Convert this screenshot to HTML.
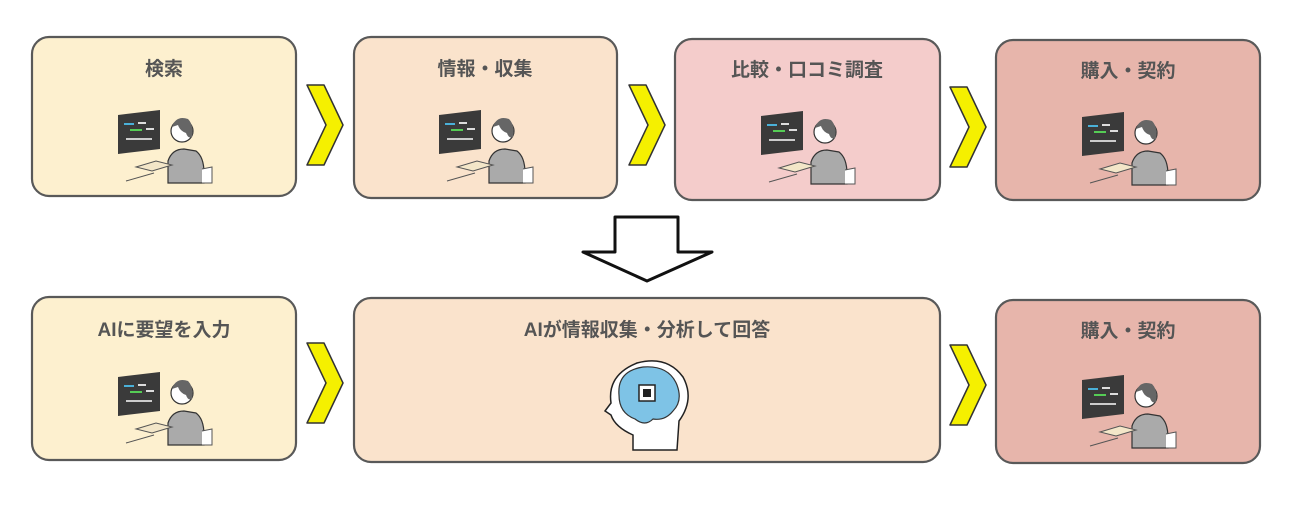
<!DOCTYPE html>
<html><head><meta charset="utf-8"><style>
body{margin:0;background:#fff;width:1300px;height:500px;overflow:hidden}
text{font-family:"Liberation Sans","Noto Sans CJK JP",sans-serif;font-weight:bold;font-size:19px;fill:#555;text-anchor:middle}
</style></head><body>
<svg width="1300" height="500" viewBox="0 0 1300 500">
<defs>
<g id="p">
<polygon points="-48,-28 -6,-33 -6,6 -48,11" fill="#3a3a3a"/>
<rect x="-42" y="-20" width="10" height="2" fill="#4ab0d8"/><rect x="-28" y="-21" width="8" height="2" fill="#ddd"/>
<rect x="-36" y="-14" width="12" height="2" fill="#5c5"/><rect x="-20" y="-15" width="8" height="2" fill="#ddd"/>
<rect x="-40" y="-5" width="26" height="2" fill="#ccc"/>
<path d="M2,40 L2,18 Q6,6 18,6 L30,8 Q38,14 38,30 L38,40 Z" fill="#aaa" stroke="#333" stroke-width="1.2"/>
<circle cx="16" cy="-12" r="11" fill="#fff" stroke="#333" stroke-width="1.2"/>
<path d="M6,-16 Q10,-28 22,-24 Q28,-18 26,-6 Q22,-4 20,-10 Q14,-12 12,-18 Z" fill="#666"/>
<path d="M-30,24 L-10,18 L6,22 L-14,28 Z" fill="#f3e6c8" stroke="#555" stroke-width="1"/>
<line x1="-40" y1="38" x2="-12" y2="30" stroke="#555" stroke-width="1"/>
<path d="M36,26 L46,24 L46,40 L36,40" fill="#fff" stroke="#555" stroke-width="1"/>
</g>
<polygon id="c" points="0,0 17,0 36,40 17,80 0,80 19,40" fill="#f5f000" stroke="#333" stroke-width="1.5" stroke-linejoin="round"/>
</defs>
<g stroke="#595959" stroke-width="2.2">
<rect x="32" y="37" width="264" height="159" rx="17" fill="#fdf0cf"/>
<rect x="354" y="37" width="263" height="161" rx="17" fill="#fae3cc"/>
<rect x="675" y="39" width="265" height="161" rx="17" fill="#f4cccb"/>
<rect x="996" y="40" width="264" height="160" rx="17" fill="#e7b5ab"/>
<rect x="32" y="297" width="264" height="163" rx="17" fill="#fdf0cf"/>
<rect x="354" y="298" width="586" height="164" rx="17" fill="#fae3cc"/>
<rect x="996" y="300" width="264" height="163" rx="17" fill="#e7b5ab"/>
</g>
<text x="164" y="75">検索</text>
<text x="485" y="75">情報・収集</text>
<text x="807" y="76">比較・口コミ調査</text>
<text x="1128" y="77">購入・契約</text>
<text x="164" y="336">AIに要望を入力</text>
<text x="647" y="336">AIが情報収集・分析して回答</text>
<text x="1128" y="337">購入・契約</text>
<use href="#p" x="166" y="143"/>
<use href="#p" x="487" y="143"/>
<use href="#p" x="809" y="144"/>
<use href="#p" x="1130" y="145"/>
<use href="#p" x="166" y="405"/>
<use href="#p" x="1130" y="408"/>
<use href="#c" x="307" y="85"/>
<use href="#c" x="629" y="85"/>
<use href="#c" x="950" y="87"/>
<use href="#c" x="307" y="343"/>
<use href="#c" x="950" y="345"/>
<polygon points="615,217 678,217 678,252 712,252 647,281 583,252 615,252" fill="#fff" stroke="#111" stroke-width="3" stroke-linejoin="round"/>
<g transform="translate(647,405)">
<path d="M-14,45 L-14,30 Q-32,22 -36,10 L-42,6 L-36,-2 Q-40,-30 -10,-42 Q20,-50 36,-28 Q48,-6 32,16 L30,45 Z" fill="#fff" stroke="#222" stroke-width="1.5"/>
<path d="M-28,-10 Q-30,-34 -4,-38 Q22,-40 30,-20 Q36,-4 26,6 Q18,16 6,14 Q-2,22 -12,14 Q-28,8 -28,-10 Z" fill="#7ec3e6" stroke="#333" stroke-width="1.2"/>
<rect x="-8" y="-20" width="16" height="16" fill="#fff" stroke="#222" stroke-width="1.5"/>
<rect x="-4" y="-16" width="8" height="8" fill="#222"/>
</g>
</svg>
</body></html>
